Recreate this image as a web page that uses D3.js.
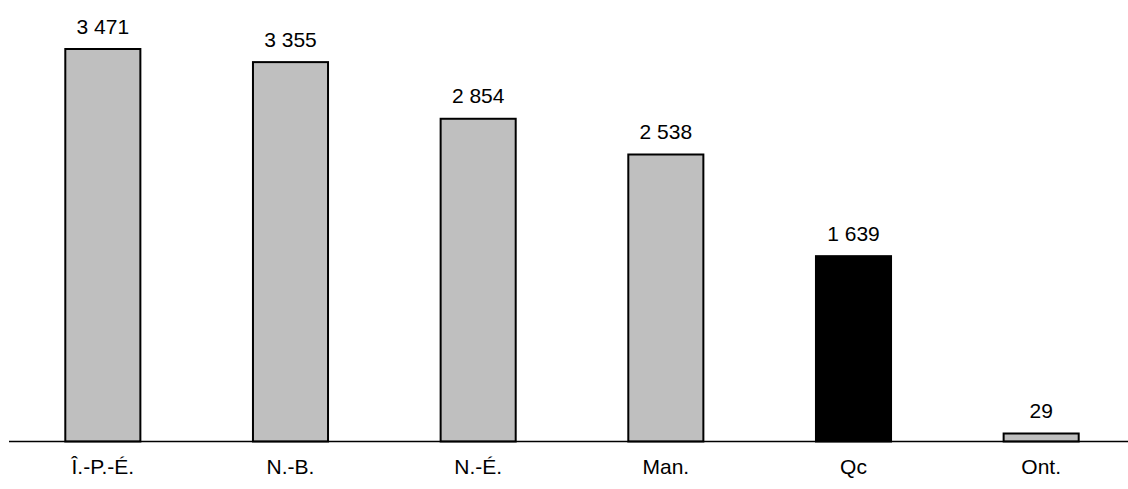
<!DOCTYPE html>
<html>
<head>
<meta charset="utf-8">
<script src="https://cdn.jsdelivr.net/npm/d3@7"></script>
<style>
  html, body { margin: 0; padding: 0; background: #fff; }
  svg { display: block; }
  text { font-family: "Liberation Sans", Arial, sans-serif; fill: #000; }
</style>
</head>
<body>
<svg id="chart" width="1128" height="489"></svg>
<script>
const categories = ["Î.-P.-É.", "N.-B.", "N.-É.", "Man.", "Qc", "Ont."];
const values = [3471, 3355, 2854, 2538, 1639, 29];
const highlight = ["Qc"];

const W = 1128, H = 489;
const baseline = 441.5;
const svg = d3.select("#chart");

const x = d3.scaleBand().domain(categories).range([9, 1135]).paddingInner(0.6).paddingOuter(0.3);
const y = d3.scaleLinear().domain([0, 3471]).range([baseline, 49]);
const minH = 8;

const fmt = v => d3.format(",")(v).replace(/,/g, " ");

const data = categories.map((c, i) => ({ c, v: values[i] }));

svg.selectAll("rect.bar").data(data).enter().append("rect")
  .attr("class", "bar")
  .attr("x", d => x(d.c))
  .attr("width", x.bandwidth())
  .attr("y", d => Math.min(y(d.v), baseline - minH))
  .attr("height", d => baseline - Math.min(y(d.v), baseline - minH))
  .attr("fill", d => highlight.includes(d.c) ? "#000" : "#bfbfbf")
  .attr("stroke", "#000")
  .attr("stroke-width", 2);

svg.append("line")
  .attr("x1", 9).attr("x2", W)
  .attr("y1", baseline).attr("y2", baseline)
  .attr("stroke", "#000").attr("stroke-width", 1.5);

svg.selectAll("text.val").data(data).enter().append("text")
  .attr("class", "val")
  .attr("x", d => x(d.c) + x.bandwidth() / 2)
  .attr("y", d => Math.min(y(d.v), baseline - minH) - 15.5)
  .attr("text-anchor", "middle")
  .attr("font-size", 21)
  .text(d => fmt(d.v));

const xAxis = d3.axisBottom(x).tickSize(0).tickPadding(0);
const g = svg.append("g").attr("transform", `translate(0,${baseline})`).call(xAxis);
g.select(".domain").remove();
g.selectAll("text")
  .attr("font-size", 21)
  .attr("dy", null)
  .attr("y", 32.5)
  .style("font-family", "'Liberation Sans', Arial, sans-serif")
  .attr("fill", "#000");
</script>
</body>
</html>
